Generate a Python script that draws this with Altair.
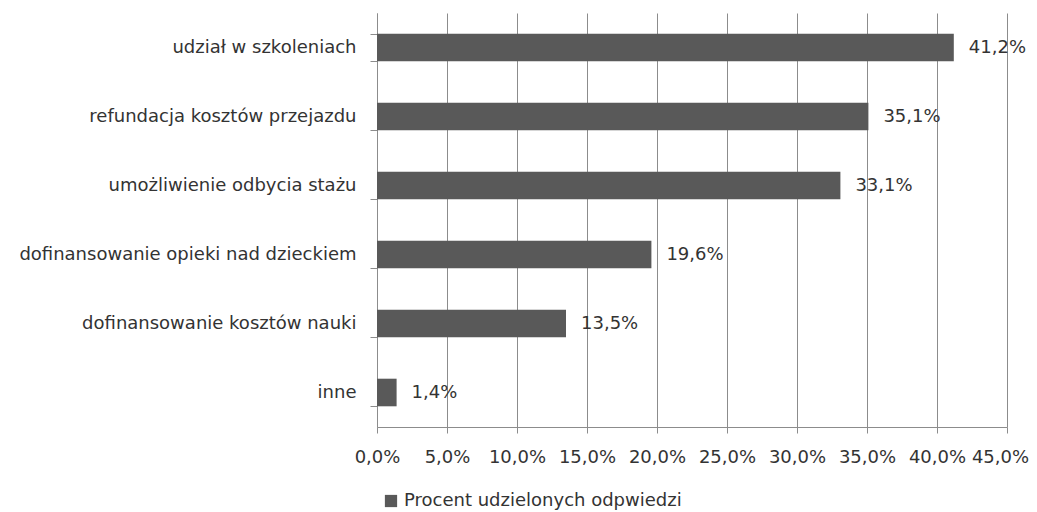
import altair as alt
import pandas as pd

categories = [
    "udział w szkoleniach",
    "refundacja kosztów przejazdu",
    "umożliwienie odbycia stażu",
    "dofinansowanie opieki nad dzieckiem",
    "dofinansowanie kosztów nauki",
    "inne",
]
values = [41.2, 35.1, 33.1, 19.6, 13.5, 1.4]
value_labels = ["41,2%", "35,1%", "33,1%", "19,6%", "13,5%", "1,4%"]
x_ticks = [0, 5, 10, 15, 20, 25, 30, 35, 40, 45]
series_name = "Procent udzielonych odpwiedzi"

df = pd.DataFrame({
    "kategoria": categories,
    "wartosc": values,
    "etykieta": value_labels,
    "seria": [series_name] * len(categories),
})

FONT = "DejaVu Sans"
FS = 18
BAR = "#595959"
GRID = "#8c8c8c"
TXT = "#333333"

y = alt.Y(
    "kategoria:N",
    sort=categories,
    title=None,
    scale=alt.Scale(paddingInner=0.6, paddingOuter=0.3),
    axis=alt.Axis(
        tickBand="extent",
        grid=False,
        domainColor=GRID,
        tickColor=GRID,
        tickSize=7,
        labelPadding=14,
        labelFont=FONT,
        labelFontSize=FS,
        labelColor=TXT,
        labelLimit=420,
    ),
)

x = alt.X(
    "wartosc:Q",
    title=None,
    scale=alt.Scale(domain=[0, 45], nice=False),
    axis=alt.Axis(
        values=x_ticks,
        labelExpr="replace(format(datum.value, '.1f'), '.', ',') + '%'",
        labelOffset={"condition": {"test": "datum.value == 45", "value": -7}, "value": 0},
        grid=True,
        gridColor=GRID,
        gridOpacity=1,
        domainColor=GRID,
        tickColor=GRID,
        tickSize=6,
        labelPadding=15,
        labelFlush=False,
        labelOverlap=False,
        labelBound=False,
        labelFont=FONT,
        labelFontSize=FS,
        labelColor=TXT,
    ),
)

bars = alt.Chart(df).mark_bar(color=BAR).encode(
    x=x,
    y=y,
    color=alt.Color(
        "seria:N",
        scale=alt.Scale(range=[BAR]),
        legend=alt.Legend(
            title=None,
            orient="none",
            legendX=5,
            legendY=479,
            symbolType="square",
            symbolSize=150,
            symbolStrokeWidth=0,
            labelFont=FONT,
            labelFontSize=FS,
            labelColor=TXT,
            labelLimit=500,
        ),
    ),
)

text = alt.Chart(df).mark_text(
    align="left", baseline="middle", dx=15, font=FONT, fontSize=FS, color=TXT
).encode(
    x=alt.X("wartosc:Q"),
    y=alt.Y("kategoria:N", sort=categories),
    text="etykieta:N",
)

chart = (
    alt.layer(bars, text)
    .properties(
        width=630,
        height=414,
        autosize=alt.AutoSizeParams(type="none"),
        padding={"left": 369, "top": 5, "right": 22, "bottom": 85},
    )
    .configure_view(stroke=None)
)

chart.save("out.html", embed_options={"renderer": "svg", "actions": False})
